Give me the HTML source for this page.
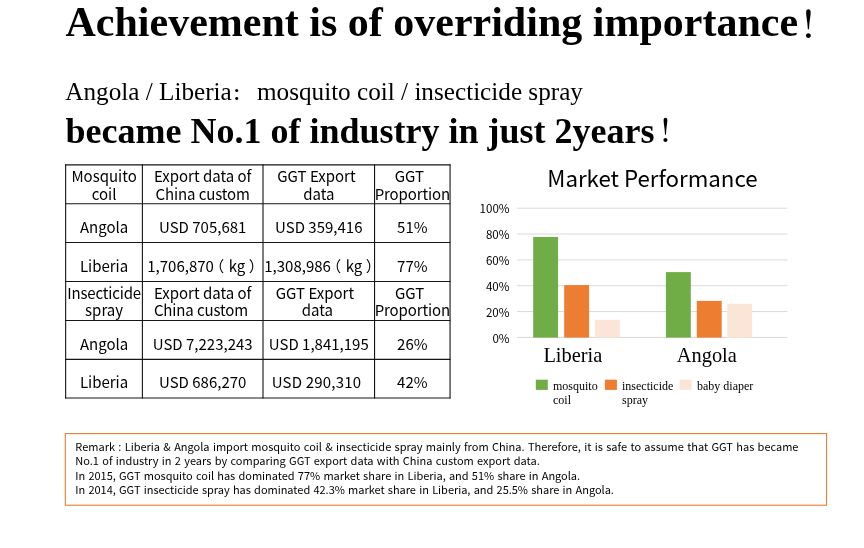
<!DOCTYPE html>
<html lang="en">
<head>
<meta charset="utf-8">
<title>Achievement is of overriding importance</title>
<style>
html,body{margin:0;padding:0;background:#fff;}
body{width:864px;height:548px;position:relative;overflow:hidden;color:#000;will-change:transform;font-family:"Liberation Serif","Noto Serif CJK SC",serif;}
.t{position:absolute;white-space:nowrap;line-height:20px;left:65.5px;}
#t1{top:12.23px;font-size:42.0px;font-weight:bold;}
#t2{top:81.70px;font-size:25.2px;left:65.3px;}
#t3{top:121.15px;font-size:36.0px;font-weight:bold;}
.ex{font-family:"Noto Serif CJK SC",serif;font-weight:600;line-height:0;font-size:0.875em;}
#t1 .ex{position:relative;left:1.2px;top:1.7px;}
#t3 .ex{position:relative;left:3.6px;top:-2.2px;font-size:0.835em;}
#t2 .ex{font-weight:700;font-size:0.7em;margin-right:7.56px;position:relative;left:0.15px;top:-0.2px;}
svg{position:absolute;left:0;top:0;}
.c{position:absolute;text-align:center;white-space:nowrap;line-height:20px;font-family:"Noto Sans CJK SC","Liberation Sans",sans-serif;font-size:15.0px;font-weight:400;}
.fw{font-family:"Noto Sans CJK SC",sans-serif;}
.pl{margin-left:-4.6px;margin-right:1px;}
.pr{margin-left:0px;margin-right:-9px;}
#ct{position:absolute;left:547px;width:211px;text-align:center;top:166.98px;font:400 22.3px/20px "Noto Sans CJK SC","Liberation Sans",sans-serif;white-space:nowrap;}
.ax{position:absolute;left:459.5px;width:50px;text-align:right;font:11.6px/20px "Noto Sans CJK SC","Liberation Sans",sans-serif;color:#000;}
.cat{position:absolute;font-size:20.4px;line-height:20px;white-space:nowrap;top:345.12px;}
.lg{position:absolute;font-size:12px;line-height:14.3px;white-space:nowrap;top:378.50px;}
#remark{position:absolute;left:75.3px;word-spacing:0.85px;top:439.00px;font:11.0px/14.4px "Noto Sans CJK SC","Liberation Sans",sans-serif;white-space:nowrap;}
.n{letter-spacing:-0.03px;}
</style>
</head>
<body>
<div class="t" id="t1">Achievement is of overriding importance<span class="ex">！</span></div>
<div class="t" id="t2">Angola / Liberia<span class="ex">：</span>mosquito coil / insecticide spray</div>
<div class="t" id="t3">became No.1 of industry in just 2years<span class="ex">！</span></div>

<svg width="864" height="548" viewBox="0 0 864 548">
<g stroke="#d9d9d9" stroke-width="1">
<line x1="516.9" y1="208.20" x2="787.4" y2="208.20"/>
<line x1="516.9" y1="234.05" x2="787.4" y2="234.05"/>
<line x1="516.9" y1="259.90" x2="787.4" y2="259.90"/>
<line x1="516.9" y1="285.75" x2="787.4" y2="285.75"/>
<line x1="516.9" y1="311.60" x2="787.4" y2="311.60"/>
<line x1="516.9" y1="337.45" x2="787.4" y2="337.45"/>
</g>
<rect x="533.2" y="236.95" width="24.9" height="100.65" fill="#70ad47"/>
<rect x="564.2" y="285.1" width="24.9" height="52.50" fill="#ed7d31"/>
<rect x="594.9" y="319.8" width="24.9" height="17.80" fill="#fbe5d6"/>
<rect x="665.9" y="272.1" width="24.9" height="65.50" fill="#70ad47"/>
<rect x="696.8" y="300.9" width="24.9" height="36.70" fill="#ed7d31"/>
<rect x="727.2" y="303.8" width="24.9" height="33.80" fill="#fbe5d6"/>
<rect x="535.8" y="379.7" width="12" height="10.2" fill="#70ad47"/>
<rect x="604.9" y="379.7" width="12" height="10.2" fill="#ed7d31"/>
<rect x="679.6" y="379.7" width="12" height="10.2" fill="#fbe5d6"/>
<g stroke="#161616" stroke-width="1.12">
<line x1="65.65" y1="164.35" x2="65.65" y2="398.5"/>
<line x1="142.4" y1="164.35" x2="142.4" y2="398.5"/>
<line x1="263.0" y1="164.35" x2="263.0" y2="398.5"/>
<line x1="374.55" y1="164.35" x2="374.55" y2="398.5"/>
<line x1="450.05" y1="164.35" x2="450.05" y2="398.5"/>
<line x1="65.15" y1="164.85" x2="450.55" y2="164.85"/>
<line x1="65.15" y1="203.7" x2="450.55" y2="203.7"/>
<line x1="65.15" y1="242.5" x2="450.55" y2="242.5"/>
<line x1="65.15" y1="281.45" x2="450.55" y2="281.45"/>
<line x1="65.15" y1="320.45" x2="450.55" y2="320.45"/>
<line x1="65.15" y1="359.4" x2="450.55" y2="359.4"/>
<line x1="65.15" y1="398.0" x2="450.55" y2="398.0"/>
</g>
<rect x="65.3" y="433.6" width="761.2" height="71.6" fill="none" stroke="#ed7d31" stroke-width="1.1"/>
</svg>

<div class="c" style="left:65.7px;width:76.8px;top:166.26px">Mosquito</div>
<div class="c" style="left:65.7px;width:76.8px;top:183.56px">coil</div>
<div class="c" style="left:142.4px;width:120.6px;top:166.26px">Export data of</div>
<div class="c" style="left:142.4px;width:120.6px;top:183.56px;letter-spacing:-0.12px">China custom</div>
<div class="c" style="left:260.6px;width:111.6px;top:166.26px">GGT Export</div>
<div class="c" style="left:263.0px;width:111.6px;top:183.56px">data</div>
<div class="c" style="left:371.7px;width:75.5px;top:166.26px">GGT</div>
<div class="c" style="left:374.6px;width:75.5px;top:183.56px;letter-spacing:-0.12px">Proportion</div>
<div class="c" style="left:65.7px;width:76.8px;top:216.66px">Angola</div>
<div class="c" style="left:142.4px;width:120.6px;top:216.66px">USD 705,681</div>
<div class="c" style="left:263.0px;width:111.6px;top:216.66px">USD 359,416</div>
<div class="c" style="left:374.6px;width:75.5px;top:216.66px">51%</div>
<div class="c" style="left:65.7px;width:76.8px;top:255.61px">Liberia</div>
<div class="c" style="left:140.7px;width:120.6px;top:255.61px">1,706,870<span class="fw pl">（</span> kg <span class="fw pr">）</span></div>
<div class="c" style="left:262.2px;width:111.6px;top:255.61px">1,308,986<span class="fw pl">（</span> kg <span class="fw pr">）</span></div>
<div class="c" style="left:374.6px;width:75.5px;top:255.61px">77%</div>
<div class="c" style="left:65.7px;width:76.8px;top:283.01px;letter-spacing:-0.15px">Insecticide</div>
<div class="c" style="left:65.7px;width:76.8px;top:300.31px">spray</div>
<div class="c" style="left:142.4px;width:120.6px;top:283.01px">Export data of</div>
<div class="c" style="left:140.7px;width:120.6px;top:300.31px;letter-spacing:-0.12px">China custom</div>
<div class="c" style="left:259.1px;width:111.6px;top:283.01px">GGT Export</div>
<div class="c" style="left:261.5px;width:111.6px;top:300.31px">data</div>
<div class="c" style="left:371.8px;width:75.5px;top:283.01px">GGT</div>
<div class="c" style="left:374.6px;width:75.5px;top:300.31px;letter-spacing:-0.12px">Proportion</div>
<div class="c" style="left:65.7px;width:76.8px;top:333.56px">Angola</div>
<div class="c" style="left:142.4px;width:120.6px;top:333.56px">USD 7,223,243</div>
<div class="c" style="left:263.0px;width:111.6px;top:333.56px">USD 1,841,195</div>
<div class="c" style="left:374.6px;width:75.5px;top:333.56px">26%</div>
<div class="c" style="left:65.7px;width:76.8px;top:372.16px">Liberia</div>
<div class="c" style="left:142.4px;width:120.6px;top:372.16px">USD 686,270</div>
<div class="c" style="left:260.7px;width:111.6px;top:372.16px;letter-spacing:0.2px">USD 290,310</div>
<div class="c" style="left:374.6px;width:75.5px;top:372.16px">42%</div>

<div id="ct">Market Performance</div>
<div class="ax" style="top:198.34px">100%</div>
<div class="ax" style="top:224.19px">80%</div>
<div class="ax" style="top:250.04px">60%</div>
<div class="ax" style="top:275.89px">40%</div>
<div class="ax" style="top:301.74px">20%</div>
<div class="ax" style="top:327.59px">0%</div>
<div class="cat" style="left:543.4px">Liberia</div>
<div class="cat" style="left:676.8px">Angola</div>
<div class="lg" style="left:553px">mosquito<br>coil</div>
<div class="lg" style="left:622px">insecticide<br>spray</div>
<div class="lg" style="left:697px">baby diaper</div>

<div id="remark">Remark : Liberia &amp; Angola import mosquito coil &amp; insecticide spray mainly from China. Therefore, it is safe to assume that GGT has became<br>No.1 of industry in 2 years by comparing GGT export data with China custom export data.<br><span class="n">In 2015, GGT mosquito coil has dominated 77% market share in Liberia, and 51% share in Angola.</span><br><span class="n">In 2014, GGT insecticide spray has dominated 42.3% market share in Liberia, and 25.5% share in Angola.</span></div>
</body>
</html>
